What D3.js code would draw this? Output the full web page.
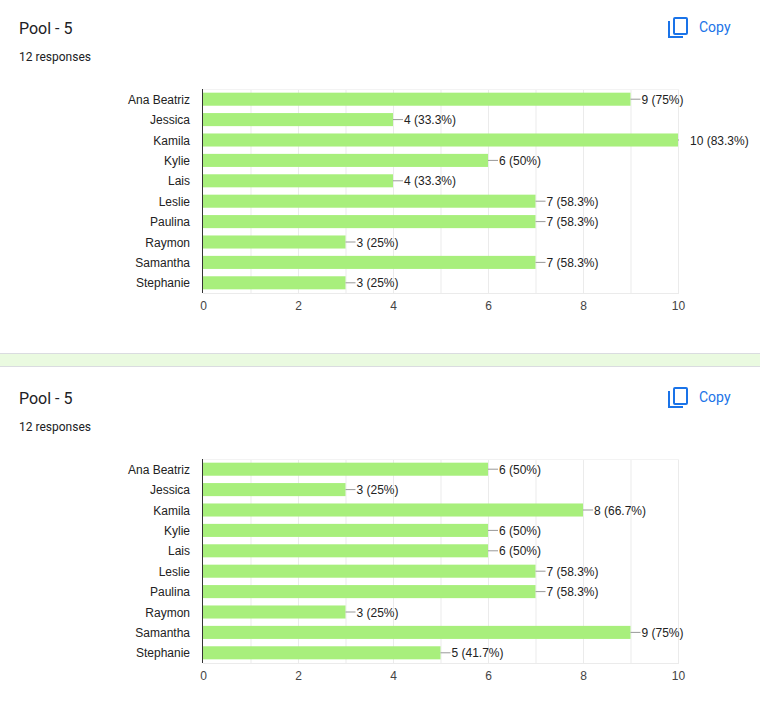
<!DOCTYPE html>
<html>
<head>
<meta charset="utf-8">
<script src="https://cdn.jsdelivr.net/npm/d3@7"></script>
<style>
  body { margin: 0; background: #fff; }
  svg { display: block; }
</style>
</head>
<body>
<div id="chart"></div>
<script>
// Data
var names = ['Ana Beatriz', 'Jessica', 'Kamila', 'Kylie', 'Lais', 'Leslie', 'Paulina', 'Raymon', 'Samantha', 'Stephanie'];
var votes_1 = [9, 4, 10, 6, 4, 7, 7, 3, 7, 3];
var votes_2 = [6, 3, 8, 6, 6, 7, 7, 3, 9, 5];
var x_ticks = [0, 2, 4, 6, 8, 10];
var responses = 12;
var title = 'Pool - 5';

var chart_width = 760;
var chart_height = 721;
var card_offset = 370;
var plot_top = 89;
var plot_bottom = 293;

var svg = d3.select('#chart')
    .append('svg')
    .attr('width', chart_width)
    .attr('height', chart_height);

// separator band between the two cards
svg.append('rect')
    .attr('x', 0).attr('y', 353)
    .attr('width', chart_width).attr('height', 13)
    .attr('fill', '#eafae0');
svg.append('line')
    .attr('x1', 0).attr('x2', chart_width)
    .attr('y1', 353.5).attr('y2', 353.5)
    .attr('stroke', '#dadce0');
svg.append('line')
    .attr('x1', 0).attr('x2', chart_width)
    .attr('y1', 366.5).attr('y2', 366.5)
    .attr('stroke', '#dadce0');

var x_scale = d3.scaleLinear()
    .domain([0, 10])
    .range([203, 678]);

var y_scale = d3.scaleBand()
    .domain(names)
    .range([plot_top, plot_bottom])
    .paddingInner(0.36)
    .paddingOuter(0.18);

var pct = function(v) {
    var p = Math.round(v / responses * 1000) / 10;
    return v + ' (' + p + '%)';
};

function drawCard(values, top) {
    var g = svg.append('g').attr('transform', 'translate(0,' + top + ')');

    // header
    g.append('text')
        .attr('x', 19).attr('y', 34)
        .attr('font-family', 'Roboto, sans-serif')
        .attr('font-size', 16)
        .attr('fill', '#202124')
        .text(title);
    g.append('text')
        .attr('x', 19).attr('y', 61)
        .attr('font-family', 'Roboto, sans-serif')
        .attr('font-size', 12)
        .attr('fill', '#202124')
        .text(responses + ' responses');

    // copy button
    var icon = g.append('g').attr('transform', 'translate(668,17)')
        .attr('fill', 'none').attr('stroke', '#1a73e8').attr('stroke-width', 2);
    icon.append('rect').attr('x', 6).attr('y', 1).attr('width', 13).attr('height', 16).attr('rx', 1);
    icon.append('path').attr('d', 'M1,4 V20 H15');
    g.append('text')
        .attr('x', 699).attr('y', 32)
        .attr('font-family', 'Roboto, sans-serif')
        .attr('font-size', 14)
        .attr('fill', '#1a73e8')
        .text('Copy');

    // gridlines every unit
    g.selectAll('.grid')
        .data(d3.range(1, 11))
        .enter()
        .append('line')
        .attr('x1', function(d) { return x_scale(d) + 0.5; })
        .attr('x2', function(d) { return x_scale(d) + 0.5; })
        .attr('y1', plot_top)
        .attr('y2', plot_bottom)
        .attr('stroke', '#ebebeb');
    g.append('line')
        .attr('x1', 203).attr('x2', 679)
        .attr('y1', plot_bottom + 0.5).attr('y2', plot_bottom + 0.5)
        .attr('stroke', '#ebebeb');
    g.append('line')
        .attr('x1', 203).attr('x2', 679)
        .attr('y1', plot_top + 0.5).attr('y2', plot_top + 0.5)
        .attr('stroke', '#f3f3f3');

    // bars
    g.selectAll('.bar')
        .data(values)
        .enter()
        .append('rect')
        .attr('x', x_scale(0))
        .attr('y', function(d, i) { return y_scale(names[i]); })
        .attr('width', function(d) { return x_scale(d) - x_scale(0); })
        .attr('height', y_scale.bandwidth())
        .attr('fill', '#a8ef7c');

    // leader lines and value labels
    g.selectAll('.lead')
        .data(values)
        .enter()
        .append('line')
        .attr('x1', function(d) { return x_scale(d); })
        .attr('x2', function(d) { return Math.min(x_scale(d) + 10, 679); })
        .attr('y1', function(d, i) { return y_scale(names[i]) + y_scale.bandwidth() / 2; })
        .attr('y2', function(d, i) { return y_scale(names[i]) + y_scale.bandwidth() / 2; })
        .attr('stroke', '#999');
    g.selectAll('.val')
        .data(values)
        .enter()
        .append('text')
        .text(function(d) { return pct(d); })
        .attr('x', function(d) { return d >= 10 ? x_scale(d) + 12 : x_scale(d) + 11; })
        .attr('y', function(d, i) { return y_scale(names[i]) + y_scale.bandwidth() / 2; })
        .attr('dy', '0.38em')
        .attr('font-family', 'Arial, "Liberation Sans", sans-serif')
        .attr('font-size', 12)
        .attr('fill', '#222');

    // category labels
    g.selectAll('.cat')
        .data(names)
        .enter()
        .append('text')
        .text(function(d) { return d; })
        .attr('x', 190)
        .attr('y', function(d) { return y_scale(d) + y_scale.bandwidth() / 2; })
        .attr('dy', '0.38em')
        .attr('text-anchor', 'end')
        .attr('font-family', 'Arial, "Liberation Sans", sans-serif')
        .attr('font-size', 12)
        .attr('fill', '#222');

    // value axis line
    g.append('line')
        .attr('x1', 202.5).attr('x2', 202.5)
        .attr('y1', plot_top).attr('y2', plot_bottom)
        .attr('stroke', '#333');

    // x axis tick labels
    var x_axis = d3.axisBottom(x_scale)
        .tickValues(x_ticks)
        .tickSize(0)
        .tickPadding(0);
    var ax = g.append('g')
        .attr('transform', 'translate(0,' + (plot_bottom + 8) + ')')
        .call(x_axis);
    ax.select('.domain').remove();
    ax.selectAll('text')
        .attr('font-family', 'Arial, "Liberation Sans", sans-serif')
        .attr('font-size', 12)
        .attr('fill', '#444')
        .attr('dy', '0.71em');
}

drawCard(votes_1, 0);
drawCard(votes_2, card_offset);
</script>
</body>
</html>
